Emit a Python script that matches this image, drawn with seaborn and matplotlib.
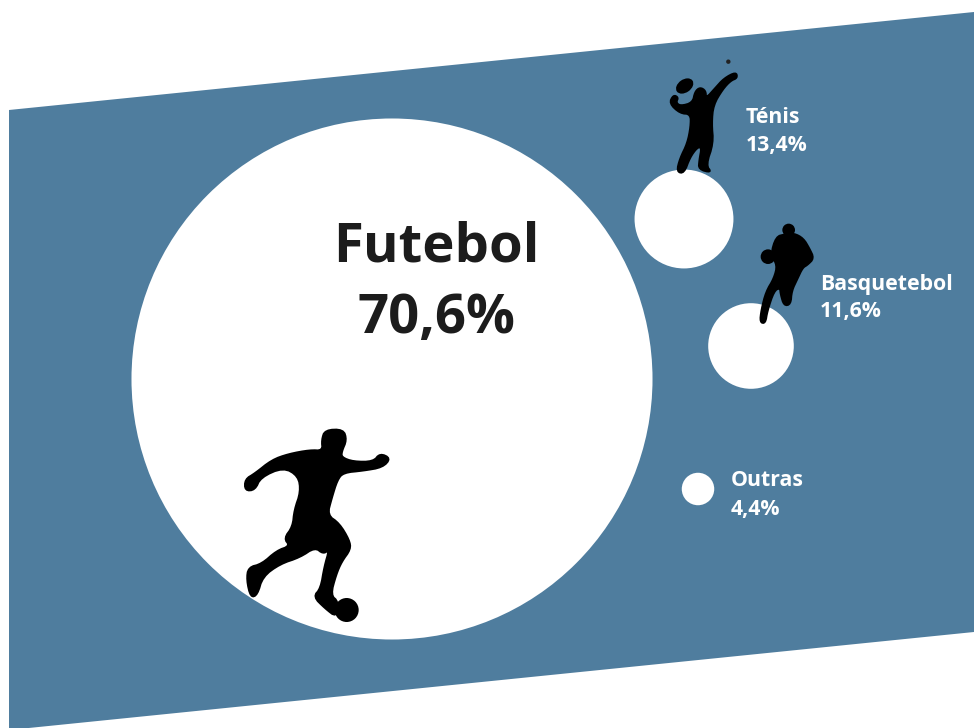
import numpy as np
import pandas as pd
import matplotlib
matplotlib.use("Agg")
import matplotlib.pyplot as plt
from matplotlib.patches import Polygon, Ellipse, Circle
import seaborn as sns

sports = ["Futebol", "Ténis", "Basquetebol", "Outras"]
shares = [70.6, 13.4, 11.6, 4.4]
centre_x = [392, 684, 751, 698]
centre_y = [379, 219, 346, 489]

BAND = "#4f7d9e"
INK = "#1c1c1c"
PX_PER_POINT = 3.69  # bubble radius in pixels per percentage point

sns.set_theme(style="white")
plt.rcParams["font.family"] = ["Open Sans", "DejaVu Sans"]

fig = plt.figure(figsize=(9.74, 7.28), dpi=100, facecolor="white")
ax = fig.add_axes([0, 0, 1, 1])

# Slanted background band
ax.add_patch(Polygon([(9, 110), (974, 12), (974, 632), (9, 730)],
                     closed=True, fc=BAND, ec="none", zorder=1))

# Bubbles, radius proportional to the share
df = pd.DataFrame({"sport": sports, "share": shares, "x": centre_x, "y": centre_y})
px_to_pt = 72 / fig.dpi
sizes = {v: (2 * v * PX_PER_POINT * px_to_pt) ** 2 for v in shares}
sns.scatterplot(data=df, x="x", y="y", size="share", sizes=sizes, color="white",
                linewidth=0, legend=False, ax=ax, zorder=2)
ax.set_xlim(0, 974)
ax.set_ylim(728, 0)
ax.axis("off")


def rounded(points, passes=2):
    """Chaikin corner cutting of a closed outline."""
    p = np.asarray(points, dtype=float)
    for _ in range(passes):
        q = np.roll(p, -1, axis=0)
        p = np.column_stack([0.75 * p + 0.25 * q, 0.25 * p + 0.75 * q]).reshape(-1, 2)
    return p


def silhouette(points, ox, oy, scale=1 / 3):
    """Black figure outline, given in a local grid and placed at (ox, oy)."""
    pts = rounded(points) * scale + np.array([ox, oy])
    ax.add_patch(Polygon(pts, closed=True, fc="black", ec="black", lw=1.4,
                         joinstyle="round", zorder=3))


def blob(cx, cy, r, ox, oy, scale=1 / 3):
    ax.add_patch(Circle((ox + cx * scale, oy + cy * scale), r * scale,
                        fc="black", ec="none", zorder=3))


# Footballer
silhouette([(275, 60), (285, 30), (340, 28), (350, 60), (335, 95), (335, 112), (370, 125),
            (430, 125), (450, 100), (482, 115), (458, 142), (400, 152), (340, 158),
            (322, 180), (305, 235), (292, 285), (328, 310), (358, 360), (362, 388),
            (335, 425), (318, 465), (302, 525), (325, 545), (320, 592),
            (285, 565), (250, 530), (272, 505), (283, 440),
            (298, 388), (280, 402), (255, 382), (210, 412), (150, 432), (98, 470),
            (82, 525), (62, 532), (50, 480), (55, 442), (95, 432), (140, 392),
            (180, 378), (162, 355), (188, 320), (193, 270), (212, 215), (205, 168),
            (160, 142), (92, 172), (75, 210), (45, 212), (45, 178), (75, 160),
            (125, 120), (175, 102), (240, 90), (278, 92)], 230, 420)
blob(350, 570, 36, 230, 420)

# Tennis player
silhouette([(105, 125), (120, 112), (137, 122), (138, 145), (165, 115), (192, 85), (228, 66),
            (232, 84), (212, 92), (188, 118), (160, 165), (155, 220), (160, 280),
            (138, 345), (155, 368), (116, 358), (118, 330), (125, 292), (112, 292),
            (90, 322), (72, 370), (50, 365), (60, 325), (82, 280), (92, 230),
            (92, 192), (60, 190), (28, 160), (40, 135), (55, 142), (48, 158),
            (62, 168), (98, 158)], 660, 50)
ax.add_patch(Ellipse((660 + 74 / 3, 50 + 108 / 3), 19, 13, angle=-35,
                     fc="black", ec="none", zorder=3))
ax.add_patch(Circle((660 + 205 / 3, 50 + 35 / 3), 2.2, fc="#222222", ec="none", zorder=3))

# Basketball player
silhouette([(78, 65), (105, 58), (132, 55), (160, 70), (178, 100),
            (192, 130), (172, 150), (158, 158), (142, 192), (125, 228), (122, 268),
            (102, 272), (92, 238), (90, 218), (72, 228), (52, 288), (46, 325),
            (30, 322), (34, 285), (48, 230), (72, 190), (82, 150), (62, 120)], 750, 215)
blob(116, 45, 19, 750, 215)
blob(54, 125, 22, 750, 215)


def pct(v):
    return f"{v:.1f}".replace(".", ",") + "%"


# Big label inside the largest bubble
ax.text(436, 241, sports[0], fontsize=39.2, fontweight="bold", color=INK,
        ha="center", va="center_baseline", zorder=4)
ax.text(436, 312, pct(shares[0]), fontsize=39.2, fontweight="bold", color=INK,
        ha="center", va="center_baseline", zorder=4)

# Small labels beside the other bubbles
label_pos = {"Ténis": (746, 115, 143), "Basquetebol": (820, 282, 309), "Outras": (731, 478, 507)}
for name, value in zip(sports[1:], shares[1:]):
    lx, y1, y2 = label_pos[name]
    ax.text(lx, y1, name, fontsize=15.3, fontweight="bold", color="white",
            ha="left", va="center_baseline", zorder=4)
    ax.text(lx, y2, pct(value), fontsize=15.3, fontweight="bold", color="white",
            ha="left", va="center_baseline", zorder=4)

fig.savefig("out.png", dpi=100, facecolor="white")
